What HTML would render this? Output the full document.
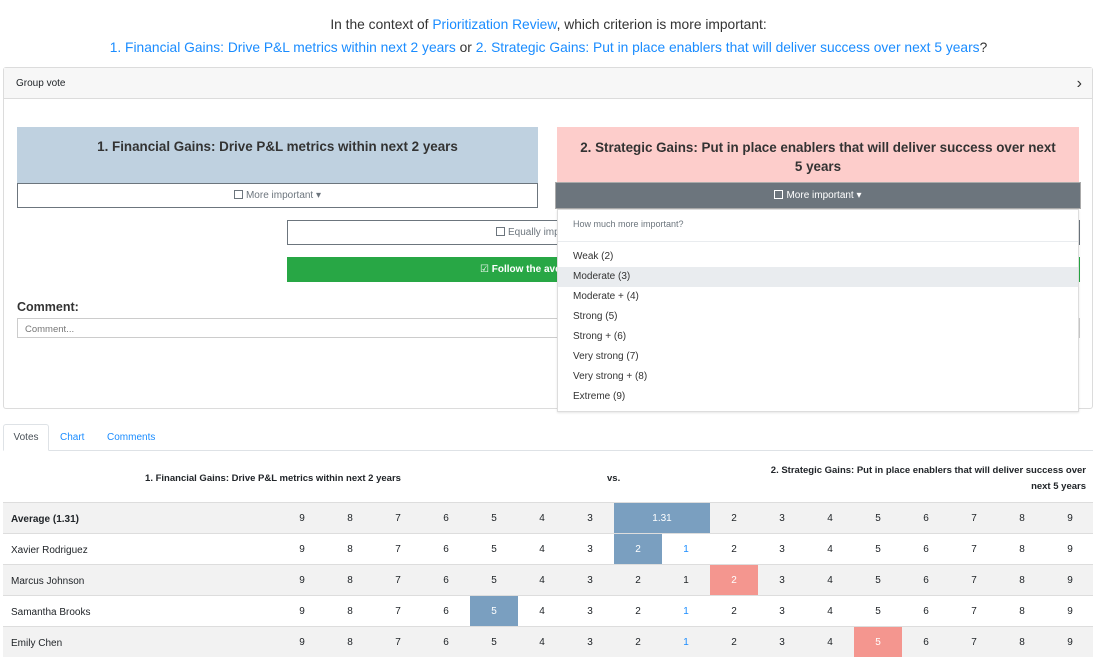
<!DOCTYPE html>
<html><head><meta charset="utf-8"><style>
*{box-sizing:border-box;margin:0;padding:0}
body{width:1097px;height:656px;overflow:hidden;background:#fff;font-family:"Liberation Sans","DejaVu Sans",sans-serif;color:#212529;position:relative}
.a{position:absolute;white-space:nowrap}
.c{text-align:center}
a{color:#1a8cff;text-decoration:none}
.cb{display:inline-block;width:9px;height:9px;border:1px solid #6c757d;vertical-align:-1px;margin-right:3px;background:#fff}
.cell{position:absolute;height:31px;width:48px;font-size:10px;line-height:31px;text-align:center}
</style></head><body>
<div class="a c" style="left:0;width:1097px;top:13px;font-size:13.8px;line-height:23px;color:#333">In the context of <a>Prioritization Review</a>, which criterion is more important:<br><a>1. Financial Gains: Drive P&amp;L metrics within next 2 years</a> or <a>2. Strategic Gains: Put in place enablers that will deliver success over next 5 years</a>?</div>

<div class="a" style="left:3px;top:67px;width:1090px;height:342px;border:1px solid #dcdcdc;border-radius:3px"></div>
<div class="a" style="left:4px;top:68px;width:1088px;height:31px;background:#f7f7f7;border-bottom:1px solid #dcdcdc;font-size:10px;line-height:31px;padding-left:12px">Group vote<span style="position:absolute;right:10px;font-size:16px;color:#333">›</span></div>

<div class="a c" style="left:17px;top:127px;width:521px;height:56px;background:#bfd1e0;font-size:13.4px;font-weight:bold;color:#333;padding-top:12px">1. Financial Gains: Drive P&amp;L metrics within next 2 years</div>
<div class="a c" style="left:17px;top:183px;width:521px;height:25px;border:1px solid #6c757d;font-size:10px;line-height:23px;color:#6c757d"><span class="cb"></span>More important ▾</div>

<div class="a c" style="left:557px;top:127px;width:522px;height:56px;background:#fdcdcb;font-size:13.4px;font-weight:bold;color:#333;padding:11px 4px 0;line-height:19px;white-space:normal">2. Strategic Gains: Put in place enablers that will deliver success over next<br>5 years</div>
<div class="a c" style="left:555px;top:182px;width:526px;height:27px;background:#6c757d;border:1px solid #aaa;font-size:10px;line-height:25px;color:#fff"><span class="cb" style="border-color:#fff;background:transparent"></span>More important ▾</div>

<div class="a" style="left:287px;top:220px;width:793px;height:25px;border:1px solid #6c757d;font-size:10px;line-height:23px;color:#6c757d;padding-left:208px"><span class="cb"></span>Equally important</div>
<div class="a" style="left:287px;top:257px;width:793px;height:25px;background:#28a745;font-size:10px;line-height:25px;color:#fff;font-weight:bold;padding-left:193px">☑ Follow the average</div>

<div class="a" style="left:17px;top:300px;font-size:12.5px;font-weight:bold;color:#333">Comment:</div>
<div class="a" style="left:17px;top:318px;width:1063px;height:20px;border:1px solid #ccc;font-size:9.5px;line-height:22px;padding-left:7px;color:#777">Comment...</div>

<div class="a" style="left:557px;top:209px;width:522px;height:203px;background:#fff;border:1px solid #ddd;box-shadow:0 1px 2px rgba(0,0,0,.1);font-size:10px;color:#333">
<div style="position:absolute;left:15px;top:9px;font-size:9px;color:#6c757d">How much more important?</div>
<div style="position:absolute;left:0;right:0;top:31px;border-top:1px solid #e9ecef"></div>
<div style="position:absolute;left:0;right:0;top:37px;height:20px;line-height:20px;padding-left:15px">Weak (2)</div>
<div style="position:absolute;left:0;right:0;top:57px;height:20px;line-height:20px;padding-left:15px;background:#e9ecef">Moderate (3)</div>
<div style="position:absolute;left:0;right:0;top:77px;height:20px;line-height:20px;padding-left:15px">Moderate + (4)</div>
<div style="position:absolute;left:0;right:0;top:97px;height:20px;line-height:20px;padding-left:15px">Strong (5)</div>
<div style="position:absolute;left:0;right:0;top:117px;height:20px;line-height:20px;padding-left:15px">Strong + (6)</div>
<div style="position:absolute;left:0;right:0;top:137px;height:20px;line-height:20px;padding-left:15px">Very strong (7)</div>
<div style="position:absolute;left:0;right:0;top:157px;height:20px;line-height:20px;padding-left:15px">Very strong + (8)</div>
<div style="position:absolute;left:0;right:0;top:177px;height:20px;line-height:20px;padding-left:15px">Extreme (9)</div>
</div>

<div class="a" style="left:3px;top:450px;width:1090px;border-top:1px solid #dee2e6"></div>
<div class="a c" style="left:3px;top:424px;width:46px;height:27px;border:1px solid #dee2e6;border-bottom:1px solid #fff;border-radius:3px 3px 0 0;background:#fff;font-size:10px;line-height:26px;color:#495057">Votes</div>
<div class="a" style="left:60px;top:424px;font-size:10px;line-height:27px;color:#1a8cff">Chart</div>
<div class="a" style="left:107px;top:424px;font-size:10px;line-height:27px;color:#1a8cff">Comments</div>

<div class="a c" style="left:100px;width:346px;top:473px;font-size:9.5px;font-weight:bold">1. Financial Gains: Drive P&amp;L metrics within next 2 years</div>
<div class="a" style="left:607px;top:473px;font-size:9.5px;font-weight:bold">vs.</div>
<div class="a" style="right:11px;width:320px;top:463px;font-size:9.5px;font-weight:bold;text-align:right;line-height:16px;white-space:normal">2. Strategic Gains: Put in place enablers that will deliver success over next 5 years</div>

<div id="tbl" class="a" style="left:0;top:0;width:1097px;height:656px"></div>

<script>
const names = ["Average (1.31)","Xavier Rodriguez","Marcus Johnson","Samantha Brooks","Emily Chen"];
const voteSide = ["left","left","right","left","right"];
const voteValue = [1.31,2,2,5,5];
const colLabels = [9,8,7,6,5,4,3,2,1,2,3,4,5,6,7,8,9];
const x0=278, cw=48, y0=502, rh=31;
function colIndex(side,v){return side==="left"?9-Math.round(v):7+Math.round(v);}
const tbl=document.getElementById('tbl');
names.forEach((n,r)=>{
  const y=y0+r*rh;
  const row=document.createElement('div');
  
  
  row.style.cssText=`position:absolute;left:3px;top:${y}px;width:1090px;height:${rh}px;border-top:1px solid #ddd;background:${r%2===0?'#f2f2f2':'#fff'}`;
  tbl.appendChild(row);
  const nm=document.createElement('div');
  
  
  nm.style.cssText=`position:absolute;left:11px;top:${y+2}px;line-height:${rh}px;font-size:10px;white-space:nowrap;${r===0?'font-weight:bold':''}`;
  nm.textContent=n;
  tbl.appendChild(nm);
  const side=voteSide[r], v=voteValue[r];
  let hi=colIndex(side,v), span=1, label=null;
  if(v%1!==0){
    const f=Math.floor(v), c=Math.ceil(v);
    hi=Math.min(colIndex(side,f),colIndex(side,c)); span=2; label=v.toFixed(2);
  }
  const color=side==="left"?'#7a9fc0':'#f4968f';
  for(let i=0;i<colLabels.length;i++){
    if(i>hi && i<hi+span) continue;
    const c=document.createElement('div');
    
    
    c.className='cell';
    const w=(i===hi?span:1)*cw;
    c.style.left=(x0+i*cw)+'px'; c.style.top=(y+1)+'px'; c.style.height=(rh-1)+'px'; c.style.width=w+'px';
    if(i===hi){c.style.background=color;c.style.color='#fff';c.textContent=label||colLabels[i];}
    else{c.textContent=colLabels[i]; if(i===8 && r!==0 && side==='left') c.style.color='#1a8cff';
         else if(i===8 && r===4) c.style.color='#1a8cff';}
    tbl.appendChild(c);
  }
});
</script>
</body></html>
